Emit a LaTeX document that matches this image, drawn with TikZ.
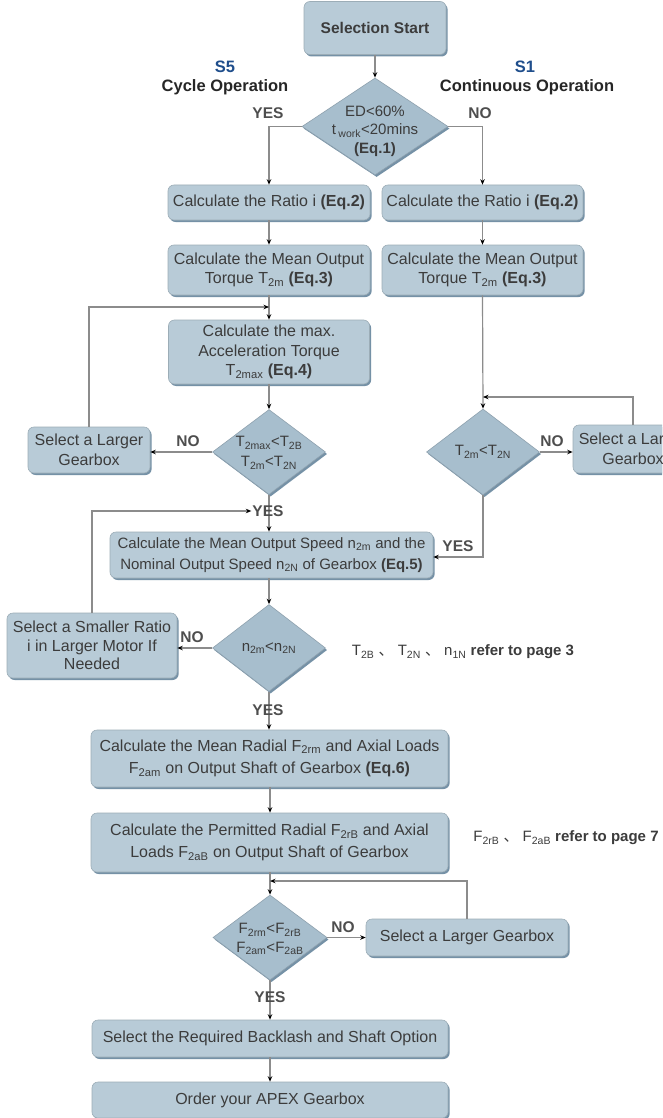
\documentclass[tikz,border=0pt]{standalone}
\usepackage{fontspec}
\setmainfont{Liberation Sans}
\newfontfamily\cjk{Noto Sans CJK SC}
\usetikzlibrary{shapes.geometric,arrows.meta,shadows}
\definecolor{boxc}{HTML}{B8CBD7}
\definecolor{diac}{HTML}{A7BECD}
\definecolor{shc}{HTML}{7591A6}
\definecolor{linec}{HTML}{8C8C8C}
\definecolor{txtc}{HTML}{3C3C3C}
\definecolor{lblc}{HTML}{4E4E4E}
\definecolor{bluec}{HTML}{1F4E8C}
\newcommand\fsbox{\fontsize{16}{19.5}\selectfont}
\newcommand\fsstart{\fontsize{15.5}{18}\selectfont\bfseries}
\newcommand\fsdia{\fontsize{15}{18.5}\selectfont}
\newcommand\fslbl{\fontsize{15.5}{18}\selectfont\bfseries}
\newcommand\fstitle{\fontsize{16.5}{19}\selectfont\bfseries}
\newcommand\fsnote{\fontsize{15}{18}\selectfont}
\tikzset{
  stepbox/.style={rounded corners=6pt, fill=boxc, draw=boxc!85!black, line width=0.6pt,
    drop shadow={shadow xshift=1.6pt, shadow yshift=-2pt, fill=shc, opacity=1},
    text=txtc, align=center, inner sep=0pt, font=\fsbox},
  dia/.style={diamond, fill=diac, draw=diac!85!black, line width=0.6pt, inner sep=0pt,
    drop shadow={shadow xshift=1.6pt, shadow yshift=-2pt, fill=shc, opacity=1}},
  diatext/.style={text=txtc, align=center, font=\fsdia, inner sep=0pt},
  lbl/.style={text=lblc, font=\fslbl, inner sep=1pt},
  note/.style={text=txtc, font=\fsnote, inner sep=0pt},
  conn/.style={draw=linec, line width=1.2pt, -{Stealth[length=5.5pt,width=4.5pt,color=black]}}
}
\begin{document}
\begin{tikzpicture}[x=1pt,y=1pt]
\fill[white] (0,0) rectangle (662,-1118);
\useasboundingbox (0,0) rectangle (662,-1118);
\clip (0,0) rectangle (662,-1118);

% titles
\node[font=\fstitle, text=bluec] (s5) at (225,-67) {S5};
\node[font=\fstitle, text=black!85] (cyc) at (225,-87) {Cycle Operation};
\node[font=\fstitle, text=bluec] (s1) at (525,-67) {S1};
\node[font=\fstitle, text=black!85] (cont) at (527,-87) {Continuous Operation};

% nodes
\node[stepbox, minimum width=142pt, minimum height=53pt, font=\fsstart] (start) at (375,-28) {Selection Start};
\node[dia, minimum width=146pt, minimum height=97pt] (d1) at (375,-126.5) {};
\node[diatext] (d1t) at (375,-131) {ED<60\%\\t\,\textsubscript{work}<20mins\\\textbf{(Eq.1)}};

\node[stepbox, minimum width=202pt, minimum height=35pt] (ratioL) at (269,-202.5) {Calculate the Ratio i \textbf{(Eq.2)}};
\node[stepbox, minimum width=201pt, minimum height=35pt] (ratioR) at (482.5,-202.5) {Calculate the Ratio i \textbf{(Eq.2)}};
\node[stepbox, minimum width=202pt, minimum height=50pt] (torqL) at (269,-270) {Calculate the Mean Output\\Torque T\textsubscript{2m} \textbf{(Eq.3)}};
\node[stepbox, minimum width=201pt, minimum height=50pt] (torqR) at (482.5,-270) {Calculate the Mean Output\\Torque T\textsubscript{2m} \textbf{(Eq.3)}};

\node[stepbox, minimum width=201pt, minimum height=64pt] (accel) at (269,-352) {Calculate the max.\\Acceleration Torque\\T\textsubscript{2max} \textbf{(Eq.4)}};

\node[dia, minimum width=113pt, minimum height=85pt] (dL) at (269,-452) {};
\node[diatext, font=\fontsize{15}{20}\selectfont] (dLt) at (269,-453) {T\textsubscript{2max}<T\textsubscript{2B}\\T\textsubscript{2m}<T\textsubscript{2N}};
\node[stepbox, minimum width=122pt, minimum height=46pt] (bigL) at (89,-450) {Select a Larger\\Gearbox};

\node[dia, minimum width=113pt, minimum height=86pt] (dR) at (483,-452) {};
\node[diatext] (dRt) at (483,-452) {T\textsubscript{2m}<T\textsubscript{2N}};
\node[stepbox, minimum width=120pt, minimum height=48pt] (bigR) at (633,-449) {Select a Larger\\Gearbox};

\node[stepbox, minimum width=323pt, minimum height=46pt, font=\fontsize{15}{21}\selectfont] (speed) at (271.5,-555) {Calculate the Mean Output Speed n\textsubscript{2m} and the\\Nominal Output Speed n\textsubscript{2N} of Gearbox \textbf{(Eq.5)}};

\node[dia, minimum width=113pt, minimum height=87pt] (dn) at (269,-648) {};
\node[diatext] (dnt) at (269,-648) {n\textsubscript{2m}<n\textsubscript{2N}};
\node[stepbox, minimum width=170pt, minimum height=65pt, font=\fontsize{16}{18.5}\selectfont] (smaller) at (92,-645.5) {Select a Smaller Ratio\\i in Larger Motor If\\Needed};

\node[note] (note1) at (463,-652) {T\textsubscript{2B} {\cjk 、} T\textsubscript{2N} {\cjk 、} n\textsubscript{1N} \textbf{refer to page 3}};

\node[stepbox, minimum width=357pt, minimum height=57pt, font=\fontsize{16}{22.5}\selectfont] (radial) at (269.5,-758.5) {Calculate the Mean Radial F\textsubscript{2rm} and Axial Loads\\F\textsubscript{2am} on Output Shaft of Gearbox \textbf{(Eq.6)}};
\node[stepbox, minimum width=357pt, minimum height=59pt, font=\fontsize{16}{22}\selectfont] (permitted) at (269.5,-842.5) {Calculate the Permitted Radial F\textsubscript{2rB} and Axial\\Loads F\textsubscript{2aB} on Output Shaft of Gearbox};
\node[note] (note2) at (566,-838) {F\textsubscript{2rB} {\cjk 、} F\textsubscript{2aB} \textbf{refer to page 7}};

\node[dia, minimum width=114pt, minimum height=85pt] (dF) at (270,-937.5) {};
\node[diatext] (dFt) at (270,-939) {F\textsubscript{2rm}<F\textsubscript{2rB}\\F\textsubscript{2am}<F\textsubscript{2aB}};
\node[stepbox, minimum width=202pt, minimum height=37pt] (bigF) at (467,-937.5) {Select a Larger Gearbox};

\node[stepbox, minimum width=356pt, minimum height=37pt] (backlash) at (270,-1038.5) {Select the Required Backlash and Shaft Option};
\node[stepbox, minimum width=356pt, minimum height=36pt] (order) at (270,-1100) {Order your APEX Gearbox};

% junction points of loops
\coordinate (jL) at (269,-307);
\coordinate (jR) at (483,-397);
\coordinate (jF) at (270,-881);

% connectors
\draw[conn] (start.south) -- (d1.north);
\draw[conn] (d1.west) -| (ratioL.north);
\draw[conn] (d1.east) -| (ratioR.north);
\draw[conn] (ratioL.south) -- (torqL.north);
\draw[conn] (ratioR.south) -- (torqR.north);
\draw[conn] (torqL.south) -- (torqL.south |- accel.north);
\draw[conn] (bigL.north) |- (jL);
\draw[conn] (accel.south) -- (dL.north);
\draw[conn] (dL.west) -- (dL.west -| bigL.east);
\draw[conn] (torqR.south) -- (dR.north);
\draw[conn] (bigR.north) |- (jR);
\draw[conn] (dR.east) -- (dR.east -| bigR.west);
\draw[conn] (dR.south) |- ([yshift=-2pt]speed.east);
\draw[conn] (dL.south) -- (dL.south |- speed.north);
\draw[conn] (dn.north |- speed.south) -- (dn.north);
\draw[conn] (dn.west) -- (dn.west -| smaller.east);
\draw[conn] (dn.south) -- (dn.south |- radial.north);
\draw[conn] (dF.north |- radial.south) -- (dF.north |- permitted.north);
\draw[conn] (dF.north |- permitted.south) -- (dF.north);
\draw[conn] (bigF.north) |- (jF);
\draw[conn] (dF.east) -- (dF.east -| bigF.west);
\draw[conn] (dF.south) -- (dF.south |- backlash.north);
\draw[conn] (dF.south |- backlash.south) -- (dF.south |- order.north);

% branch labels
\node[lbl] (yes1) at (268,-113) {YES};
\node[lbl] (no1) at (480,-113) {NO};
\node[lbl] (noL) at (188,-441) {NO};
\node[lbl] (noR) at (552,-441) {NO};
\node[lbl] (yesL) at (268,-511) {YES};
\node[lbl] (yesR) at (458,-546) {YES};
\node[lbl] (noN) at (192,-637) {NO};
\node[lbl] (yesN) at (268,-710) {YES};
\node[lbl] (noF) at (343,-927) {NO};
\node[lbl] (yesF) at (270,-997) {YES};
\draw[conn] (smaller.north) |- (yesL.west);
\end{tikzpicture}
\end{document}
